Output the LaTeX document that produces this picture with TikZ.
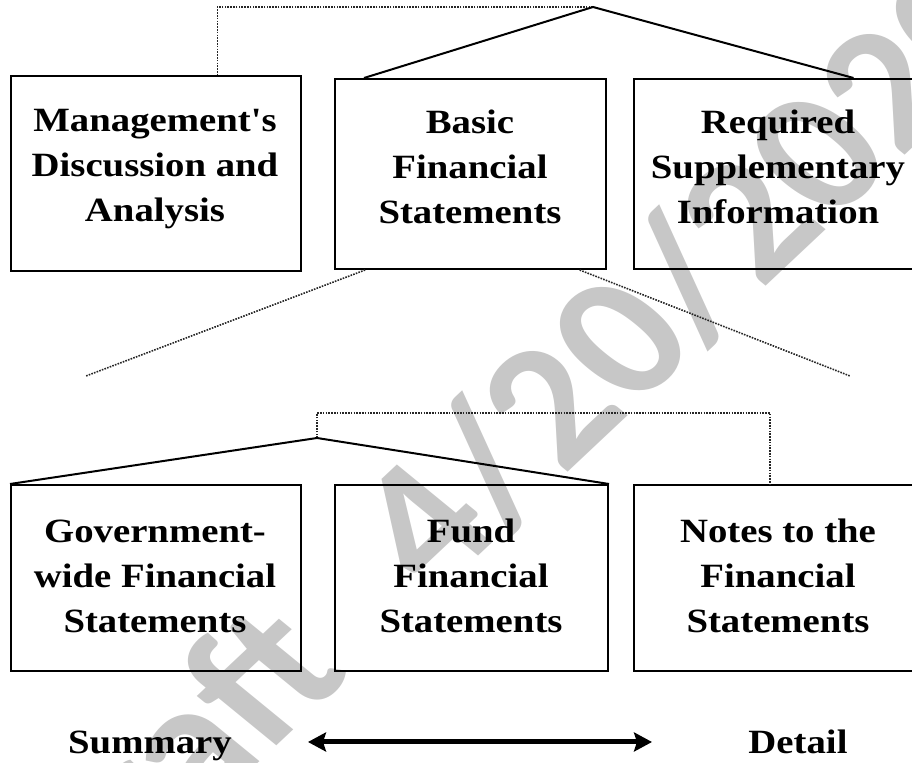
\documentclass[tikz,border=0pt]{standalone}
\usepackage{fontspec}
\usepackage{graphicx}
\setmainfont{Liberation Serif}[Ligatures=TeXOff]
\newfontfamily\wmfont{Carlito}
\usetikzlibrary{calc,arrows.meta}
\newcommand{\wtxt}[1]{\scalebox{1.14}[1]{\begin{tabular}{@{}c@{}}#1\end{tabular}}}
\begin{document}
\begin{tikzpicture}[x=0.5pt,y=-0.5pt,
  box/.style={draw=black, line width=1pt, inner sep=0pt, anchor=north west},
  lbl/.style={inner sep=0pt, font=\fontsize{17}{22.5}\selectfont\bfseries},
  dotline/.style={draw=black!85, line width=0.8pt, dash pattern=on 0.8pt off 0.6pt},
  solidline/.style={draw=black, line width=1pt},
  bigarrow/.style={draw=black, line width=2.5pt, {Stealth[length=9pt,width=9.5pt,inset=1.5pt]}-{Stealth[length=9pt,width=9.5pt,inset=1.5pt]}},
  wm/.style={inner sep=0pt, text=black!22, font=\wmfont\bfseries\fontsize{88}{92}\selectfont}]
\useasboundingbox (0,0) rectangle (912,763);
% watermark
\begin{scope}
\clip (0,0) rectangle (912,763);
\begin{scope}[xscale=1.14]
\node[wm, rotate=47, transform shape, anchor=base west] (wmark) at (382,597) {\llap{Draft\hspace{0.6em}}4/20/2020};
\end{scope}
\end{scope}
% boxes, top row
\node[box, minimum width=145pt, minimum height=97.5pt] (mda) at (10,75) {};
\node[box, minimum width=135.5pt, minimum height=95pt] (basic) at (334,78) {};
\node[box, minimum width=143.5pt, minimum height=95pt] (rsi) at (633,78) {};
% boxes, bottom row
\node[box, minimum width=145pt, minimum height=93pt] (gov) at (10,484) {};
\node[box, minimum width=136.5pt, minimum height=93pt] (fund) at (334,484) {};
\node[box, minimum width=143.5pt, minimum height=93pt] (notes) at (633,484) {};
% labels
\node[lbl] (mdaT) at (155,168) {\wtxt{Management's\\Discussion and\\Analysis}};
\node[lbl] (basicT) at (470,170) {\wtxt{Basic\\Financial\\Statements}};
\node[lbl] (rsiT) at (778,170) {\wtxt{Required\\Supplementary\\Information}};
\node[lbl] (govT) at (155,579) {\wtxt{Government-\\wide Financial\\Statements}};
\node[lbl] (fundT) at (471,579) {\wtxt{Fund\\Financial\\Statements}};
\node[lbl] (notesT) at (778,579) {\wtxt{Notes to the\\Financial\\Statements}};
\node[lbl, anchor=base] (summary) at (150,754) {\scalebox{1.14}[1]{Summary}};
\node[lbl, anchor=base] (detail) at (798,754) {\scalebox{1.14}[1]{Detail}};
% connector coordinates
\coordinate (top) at (593,7);
\coordinate (mdaN) at ($(mda.north west)!0.71!(mda.north east)$);
\coordinate (basicN) at ($(basic.north west)!0.11!(basic.north east)$);
\coordinate (rsiN) at ($(rsi.north west)!0.763!(rsi.north east)$);
\coordinate (basicSL) at ($(basic.south west)!0.114!(basic.south east)$);
\coordinate (basicSR) at ($(basic.south west)!0.90!(basic.south east)$);
\coordinate (fanL) at (86,376);
\coordinate (fanR) at (850,376);
\coordinate (apex2) at (317,438);
\coordinate (lowbar) at (317,413);
\coordinate (notesN) at ($(notes.north west)!0.474!(notes.north east)$);
\coordinate (arrL) at (308,742);
\coordinate (arrR) at (652,742);
% connectors
\draw[dotline] (top) -| (mdaN);
\draw[solidline] (basicN) -- (top) -- (rsiN);
\draw[dotline] (basicSL) -- (fanL);
\draw[dotline] (basicSR) -- (fanR);
\draw[dotline] (apex2) -- (lowbar) -| (notesN);
\draw[solidline] (gov.north west) -- (apex2) -- (fund.north east);
\draw[bigarrow] (arrL) -- (arrR);
\end{tikzpicture}
\end{document}
